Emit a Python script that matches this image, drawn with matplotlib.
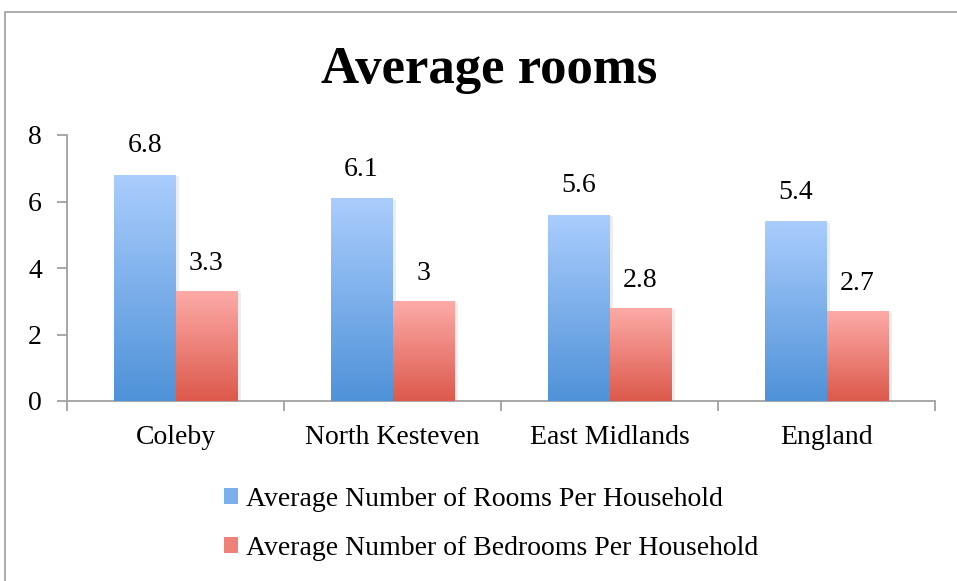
import numpy as np
import matplotlib
matplotlib.use('Agg')
import matplotlib.pyplot as plt
from matplotlib.patches import Rectangle, Patch
from matplotlib.colors import LinearSegmentedColormap

plt.rcParams['font.family'] = ['Liberation Serif', 'DejaVu Serif']

# ── data ──
categories = ["Coleby", "North Kesteven", "East Midlands", "England"]
rooms = [6.8, 6.1, 5.6, 5.4]
bedrooms = [3.3, 3, 2.8, 2.7]
room_labels = ["6.8", "6.1", "5.6", "5.4"]
bed_labels = ["3.3", "3", "2.8", "2.7"]
series_names = ["Average Number of Rooms Per Household",
                "Average Number of Bedrooms Per Household"]

BLUE = ('#4f92d8', '#aacdfd')   # bottom, top
RED = ('#dc594b', '#fdaba8')
FS = 20

W, H = 957, 581
fig = plt.figure(figsize=(W / 100, H / 100), dpi=100)

# outer chart frame (cut at right / bottom like the reference)
fig.patches.append(Rectangle((5 / W, -0.05), 1.1, 1 - 12 / H + 0.05,
                             transform=fig.transFigure, fill=False,
                             ec='#a6a6a6', lw=1.3))

ax = fig.add_axes([67 / W, 1 - 401 / H, (935 - 67) / W, (401 - 135) / H])

bw = 0.285
x = np.arange(len(categories))


def gradient_bars(xs, vals, cols):
    cmap = LinearSegmentedColormap.from_list('g', list(cols))
    grad = np.linspace(0, 1, 256).reshape(-1, 1)
    for xi, v in zip(xs, vals):
        # soft shadow
        ax.add_patch(Rectangle((xi - bw / 2 + 0.015, 0), bw, v - 0.04,
                               fc='#000000', alpha=0.07, lw=0, zorder=1))
        bar = ax.bar(xi, v, width=bw, color=cols[0], lw=0, zorder=2)[0]
        im = ax.imshow(grad, cmap=cmap, origin='lower', aspect='auto',
                       extent=[xi - bw / 2, xi + bw / 2, 0, v], zorder=3)
        im.set_clip_path(bar)


gradient_bars(x - bw / 2, rooms, BLUE)
gradient_bars(x + bw / 2, bedrooms, RED)
ax.set_xlim(-0.5, len(categories) - 0.5)
ax.set_ylim(0, 8)

for xi, v, t in zip(x - bw / 2, rooms, room_labels):
    ax.annotate(t, (xi, v), xytext=(0, 21), textcoords='offset points',
                ha='center', va='center', fontsize=FS)
for xi, v, t in zip(x + bw / 2, bedrooms, bed_labels):
    ax.annotate(t, (xi, v), xytext=(0, 20), textcoords='offset points',
                ha='center', va='center', fontsize=FS)

# axes styling (Excel look)
for s in ['top', 'right']:
    ax.spines[s].set_visible(False)
for s in ['left', 'bottom']:
    ax.spines[s].set_color('#a0a0a0')
    ax.spines[s].set_linewidth(1.3)
ax.set_yticks([0, 2, 4, 6, 8])
ax.tick_params(axis='y', length=7, width=1.3, color='#a0a0a0',
               labelsize=FS, pad=11)
ax.set_xticks(x)
ax.set_xticklabels(categories, fontsize=FS)
ax.tick_params(axis='x', length=0, pad=17)
ax.set_xticks(np.arange(-0.5, len(categories)), minor=True)
ax.tick_params(axis='x', which='minor', length=7, width=1.3, color='#a0a0a0')

fig.text(0.511, 1 - 70 / H, "Average rooms", ha='center', va='center',
         fontsize=38, fontweight='bold')

handles = [Patch(fc='#7cb0ec', ec='none'), Patch(fc='#ee8279', ec='none')]
fig.legend(handles, series_names, loc='upper left',
           bbox_to_anchor=(213 / W, 1 - 476 / H), frameon=False,
           fontsize=FS, handlelength=0.5, handleheight=0.5,
           handletextpad=0.3, labelspacing=0.85, borderaxespad=0)

fig.savefig('out.png', dpi=100)
